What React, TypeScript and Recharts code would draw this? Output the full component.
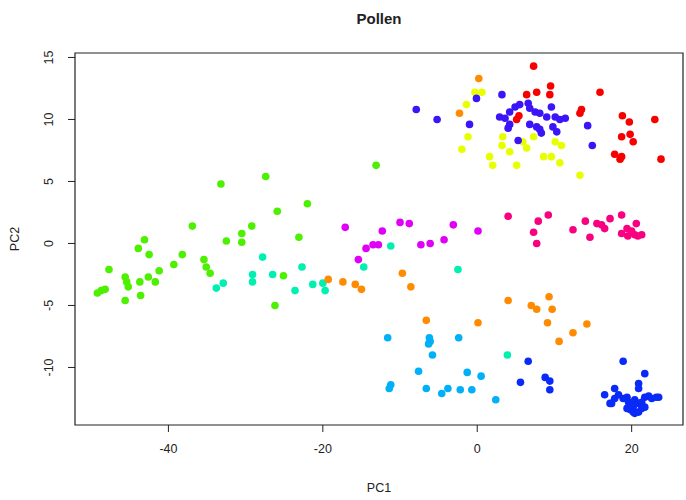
import { ReferenceArea, Scatter, ScatterChart, XAxis, YAxis } from "recharts";

type Pt = [number, number];

// PC1 / PC2 scores, one array per cell-type cluster
const greenPts: Pt[] = [
  [-13.1, 6.3], [-27.4, 5.4], [-33.2, 4.8], [-22.0, 3.2], [-25.9, 2.6], [-36.9, 1.4], [-29.2, 1.4],
  [-30.5, 0.8], [-30.5, 0.1], [-32.5, 0.2], [-23.1, 0.5], [-43.1, 0.3], [-43.9, -0.4], [-42.5, -0.9],
  [-38.2, -0.9], [-39.3, -1.7], [-41.2, -2.2], [-42.6, -2.7], [-43.7, -3.1], [-41.7, -3.1], [-47.7, -2.1],
  [-45.6, -2.7], [-45.4, -3.1], [-45.2, -3.5], [-48.7, -3.8], [-49.2, -4.0], [-48.2, -3.7], [-45.6, -4.6],
  [-43.6, -4.2], [-25.1, -2.6], [-26.2, -5.0], [-35.4, -1.3], [-35.1, -1.9], [-34.6, -2.4],
];
const aquaPts: Pt[] = [
  [-33.8, -3.6], [-32.9, -3.2], [-27.8, -1.1], [-29.1, -2.5], [-29.1, -3.1], [-26.5, -2.5], [-22.7, -1.9],
  [-23.6, -3.8], [-21.3, -3.3], [-20.0, -3.2], [-19.7, -3.8], [-11.2, -0.2], [-14.7, -1.9], [-2.5, -2.1],
  [3.9, -9.0],
];
const magentaPts: Pt[] = [
  [-17.1, 1.3], [-12.3, 1.0], [-10.0, 1.7], [-8.8, 1.6], [-14.4, -0.4], [-13.5, -0.1], [-12.8, -0.1],
  [-15.4, -1.3], [-7.3, -0.1], [-6.1, 0.0], [-4.3, 0.3], [-3.1, 1.5], [0.1, 1.0],
];
const pinkPts: Pt[] = [
  [4.0, 2.2], [7.9, 1.8], [9.2, 2.3], [7.3, 0.9], [7.7, 0.0], [12.4, 1.1], [14.0, 1.8], [14.6, 0.5],
  [15.5, 1.6], [16.1, 1.5], [16.5, 1.2], [17.2, 2.0], [18.7, 2.3], [20.6, 1.6], [18.7, 0.8], [19.4, 1.2],
  [20.0, 1.0], [20.4, 0.7], [21.3, 0.7], [19.5, 0.6], [20.8, 0.6],
];
const orangePts: Pt[] = [
  [-19.3, -2.9], [-17.4, -3.1], [-15.8, -3.3], [-15.0, -3.7], [-9.7, -2.4], [-8.6, -3.5], [4.0, -4.6],
  [7.0, -5.0], [7.7, -5.3], [9.3, -4.3], [9.7, -5.3], [-6.6, -6.2], [0.1, -6.4], [9.1, -6.4], [14.2, -6.5],
  [12.4, -7.2], [10.6, -7.9], [0.2, 13.3], [-2.3, 10.5],
];
const skyPts: Pt[] = [
  [-11.6, -7.6], [-6.2, -7.6], [-6.1, -7.9], [-6.3, -8.1], [-5.8, -9.0], [-2.4, -7.6], [-7.6, -10.3],
  [-1.3, -10.4], [0.5, -10.7], [-11.2, -11.4], [-11.4, -11.7], [-6.6, -11.7], [-4.6, -12.1], [-3.8, -11.7],
  [-2.2, -11.8], [-0.7, -11.8], [2.4, -12.6],
];
const bluePts: Pt[] = [
  [6.6, -9.5], [5.6, -11.2], [8.8, -10.8], [9.4, -11.1], [9.4, -11.8],
  [18.9, -9.5], [21.7, -10.5], [20.9, -11.3], [20.9, -11.7], [17.8, -11.7], [16.5, -12.2], [17.2, -12.9],
  [18.3, -12.2], [18.9, -12.5], [19.4, -12.4], [19.6, -12.8], [20.0, -12.9], [20.4, -12.6], [20.2, -13.2],
  [20.9, -12.9], [21.3, -12.8], [21.7, -12.4], [22.2, -12.3], [22.6, -12.5], [23.2, -12.4], [23.5, -12.4],
  [19.8, -13.4], [20.4, -13.7], [20.9, -13.6], [21.3, -13.3], [21.7, -13.2], [17.8, -12.5], [19.4, -13.3],
  [20.2, -13.6], [17.4, -12.9],
];
const violetPts: Pt[] = [
  [-7.9, 10.8], [-5.2, 10.0], [-1.0, 9.6], [-0.1, 11.7], [3.2, 12.0], [5.5, 11.2], [4.9, 11.0], [4.2, 10.6],
  [2.9, 10.2], [3.6, 10.1], [6.6, 11.3], [6.8, 10.9], [7.5, 10.6], [8.1, 10.5], [9.6, 11.0], [4.2, 9.6],
  [4.0, 9.3], [6.8, 9.6], [7.7, 9.4], [8.1, 9.2], [8.3, 8.9], [9.0, 10.2], [10.1, 10.2], [10.7, 10.0],
  [11.4, 10.1], [9.8, 9.4], [10.3, 9.0], [5.3, 8.3], [14.3, 9.5], [14.9, 7.9],
];
const redPts: Pt[] = [
  [7.3, 14.3], [9.5, 12.7], [9.4, 12.0], [7.7, 12.2], [6.4, 12.0], [15.9, 12.2], [13.5, 10.8], [13.3, 10.5],
  [18.8, 10.3], [19.7, 9.8], [23.0, 10.0], [18.7, 8.6], [19.8, 8.8], [20.2, 8.2], [17.8, 7.2], [18.7, 7.0],
  [18.5, 6.8], [23.8, 6.8], [5.1, 10.0], [5.4, 10.3],
];
const yellowPts: Pt[] = [
  [-1.4, 11.2], [-0.3, 12.2], [0.6, 12.2], [-1.2, 8.6], [-2.0, 7.6], [1.6, 7.0], [2.0, 6.3], [3.2, 7.9],
  [4.2, 7.4], [6.4, 7.7], [7.3, 8.6], [8.6, 7.0], [9.6, 7.0], [10.1, 8.2], [10.9, 7.9], [10.7, 6.5],
  [13.3, 5.5], [5.1, 6.3], [3.3, 8.6], [5.9, 8.2],
];

const X_TICKS = [-40, -20, 0, 20];
const Y_TICKS = [-10, -5, 0, 5, 10, 15];
const X_DOMAIN: [number, number] = [-52.1, 26.65];
const Y_DOMAIN: [number, number] = [-14.64, 15.36];

// rainbow-style palette, one colour per cluster
const groups = [
  { key: "yellow", color: "#E8FF00", pts: yellowPts },
  { key: "green", color: "#4CF000", pts: greenPts },
  { key: "aqua", color: "#00F0B0", pts: aquaPts },
  { key: "sky", color: "#00B0F8", pts: skyPts },
  { key: "orange", color: "#FF8B00", pts: orangePts },
  { key: "magenta", color: "#E000F8", pts: magentaPts },
  { key: "pink", color: "#F8007F", pts: pinkPts },
  { key: "violet", color: "#3B14F8", pts: violetPts },
  { key: "red", color: "#F80000", pts: redPts },
  { key: "blue", color: "#0A2AF8", pts: bluePts },
];

const FONT = "'Liberation Sans', Arial, sans-serif";
const INK = "#222";

function XTick({ x, y, payload }: any) {
  return (
    <text x={x} y={y + 19} textAnchor="middle" fontSize={12.5} fontFamily={FONT} fill={INK}>
      {payload.value}
    </text>
  );
}

function YTick({ y, payload }: any) {
  return (
    <text
      x={53}
      y={y}
      transform={`rotate(-90 53 ${y})`}
      textAnchor="middle"
      fontSize={12.5}
      fontFamily={FONT}
      fill={INK}
    >
      {payload.value}
    </text>
  );
}

export default function App() {
  return (
    <div style={{ position: "absolute", left: 0, top: 0, width: 686, height: 500, background: "#fff", fontFamily: FONT }}>
      <div style={{ position: "absolute", left: 75, width: 608, top: 10, textAlign: "center", fontWeight: "bold", fontSize: 15, color: INK }}>
        Pollen
      </div>
      <div style={{ position: "absolute", left: 75, width: 608, top: 481, textAlign: "center", fontSize: 12.5, color: INK }}>
        PC1
      </div>
      <div
        style={{
          position: "absolute",
          left: -10,
          top: 232,
          width: 50,
          textAlign: "center",
          fontSize: 12.5,
          color: INK,
          transform: "rotate(-90deg)",
        }}
      >
        PC2
      </div>
      <ScatterChart width={686} height={500} margin={{ top: 53, right: 3, bottom: 0, left: 0 }}>
        <XAxis
          type="number"
          dataKey="x"
          domain={X_DOMAIN}
          ticks={X_TICKS}
          allowDataOverflow
          height={75}
          axisLine={false}
          tickLine={{ stroke: INK }}
          tickSize={7}
          tick={<XTick />}
        />
        <YAxis
          type="number"
          dataKey="y"
          domain={Y_DOMAIN}
          ticks={Y_TICKS}
          allowDataOverflow
          width={75}
          axisLine={false}
          tickLine={{ stroke: INK }}
          tickSize={7}
          tick={<YTick />}
        />
        <ReferenceArea
          x1={X_DOMAIN[0]}
          x2={X_DOMAIN[1]}
          y1={Y_DOMAIN[0]}
          y2={Y_DOMAIN[1]}
          fill="none"
          stroke={INK}
          strokeWidth={1.2}
          ifOverflow="visible"
        />
        {groups.map((g) => (
          <Scatter
            key={g.key}
            data={g.pts.map(([x, y]) => ({ x, y }))}
            isAnimationActive={false}
            shape={(p: any) => <circle cx={p.cx} cy={p.cy} r={3.8} fill={g.color} />}
          />
        ))}
      </ScatterChart>
    </div>
  );
}
